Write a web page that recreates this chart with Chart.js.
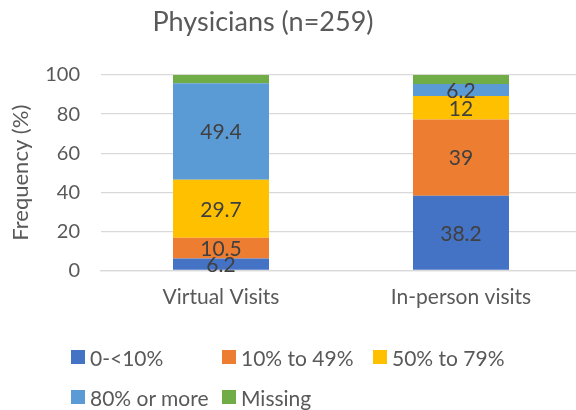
<!DOCTYPE html>
<html lang="en">

<head>
    <meta charset="UTF-8">
    <title>Physicians (n=259)</title>
    <script src="https://cdn.jsdelivr.net/npm/chart.js"></script>
    <style>
        body {
            margin: 0;
            padding: 0;
            overflow: hidden;
            background: #fff;
            font-family: 'Lato', sans-serif;
        }

        .wrap {
            position: relative;
            width: 586px;
            height: 410px;
        }

        .wrap canvas {
            position: absolute;
            left: 0;
            top: 0;
        }

        .title {
            position: absolute;
            left: 0;
            top: 4px;
            width: 526px;
            text-align: center;
            font-size: 27px;
            color: #595959;
        }

        .legend {
            position: absolute;
            left: 71px;
            top: 346px;
            display: grid;
            grid-template-columns: 151px 151px 151px;
            row-gap: 18px;
            font-size: 21px;
            color: #595959;
        }

        .legend span {
            display: flex;
            align-items: center;
            height: 22px;
            white-space: nowrap;
        }

        .legend i {
            display: inline-block;
            width: 14px;
            height: 14px;
            margin-right: 5px;
        }
    </style>
</head>

<body>
    <div class="wrap">
        <canvas id="chart" width="586" height="410"></canvas>
        <div class="title">Physicians (n=259)</div>
        <div class="legend" id="legend"></div>
    </div>

    <script>
        const categories = ['Virtual Visits', 'In-person visits'];
        const seriesNames = ['0-<10%', '10% to 49%', '50% to 79%', '80% or more', 'Missing'];
        const lowShare = [6.2, 38.2];
        const someShare = [10.5, 39];
        const halfShare = [29.7, 12];
        const mostShare = [49.4, 6.2];
        const missing = [4.2, 4.6];
        const colors = ['#4472C4', '#ED7D31', '#FFC000', '#5B9BD5', '#70AD47'];
        const labelled = [true, true, true, true, false];

        const values = [lowShare, someShare, halfShare, mostShare, missing];

        // simple value labels in the middle of each segment
        const segmentLabels = {
            id: 'segmentLabels',
            afterDatasetsDraw(chart) {
                const ctx = chart.ctx;
                ctx.save();
                ctx.font = '21px Lato';
                ctx.fillStyle = '#404040';
                ctx.textAlign = 'center';
                ctx.textBaseline = 'middle';
                chart.data.datasets.forEach((ds, i) => {
                    if (!labelled[i]) return;
                    chart.getDatasetMeta(i).data.forEach((bar, j) => {
                        ctx.fillText(String(ds.data[j]), bar.x, (bar.y + bar.base) / 2 + 1);
                    });
                });
                ctx.restore();
            }
        };

        new Chart(document.getElementById('chart').getContext('2d'), {
            type: 'bar',
            data: {
                labels: categories,
                datasets: seriesNames.map((name, i) => ({
                    label: name,
                    data: values[i],
                    backgroundColor: colors[i],
                    borderWidth: 0,
                    barPercentage: 0.4,
                    categoryPercentage: 1,
                })),
            },
            options: {
                responsive: false,
                animation: false,
                layout: {
                    padding: { left: 0, right: 5, top: 75, bottom: 99.5 }
                },
                plugins: {
                    legend: { display: false },
                    title: { display: false },
                    tooltip: { enabled: false },
                },
                scales: {
                    x: {
                        stacked: true,
                        grid: { display: false, drawTicks: false },
                        border: { display: true, color: '#d9d9d9', width: 1.3 },
                        ticks: {
                            color: '#595959',
                            font: { family: 'Lato', size: 21 },
                            padding: 14,
                        },
                        afterFit(scale) { scale.height = 40; },
                    },
                    y: {
                        stacked: true,
                        min: 0,
                        max: 100,
                        grid: { color: '#d9d9d9', lineWidth: 1.3, drawTicks: false },
                        border: { display: false },
                        ticks: {
                            stepSize: 20,
                            color: '#595959',
                            font: { family: 'Lato', size: 20 },
                            padding: 21,
                        },
                        title: {
                            display: true,
                            text: 'Frequency (%)',
                            color: '#595959',
                            font: { family: 'Lato', size: 22 },
                            padding: { top: 8, bottom: 0 },
                        },
                        afterFit(scale) { scale.width = 101; },
                    },
                },
            },
            plugins: [segmentLabels],
        });

        const legend = document.getElementById('legend');
        seriesNames.forEach((name, i) => {
            const item = document.createElement('span');
            const box = document.createElement('i');
            box.style.background = colors[i];
            item.appendChild(box);
            item.appendChild(document.createTextNode(name));
            legend.appendChild(item);
        });
    </script>
</body>

</html>
